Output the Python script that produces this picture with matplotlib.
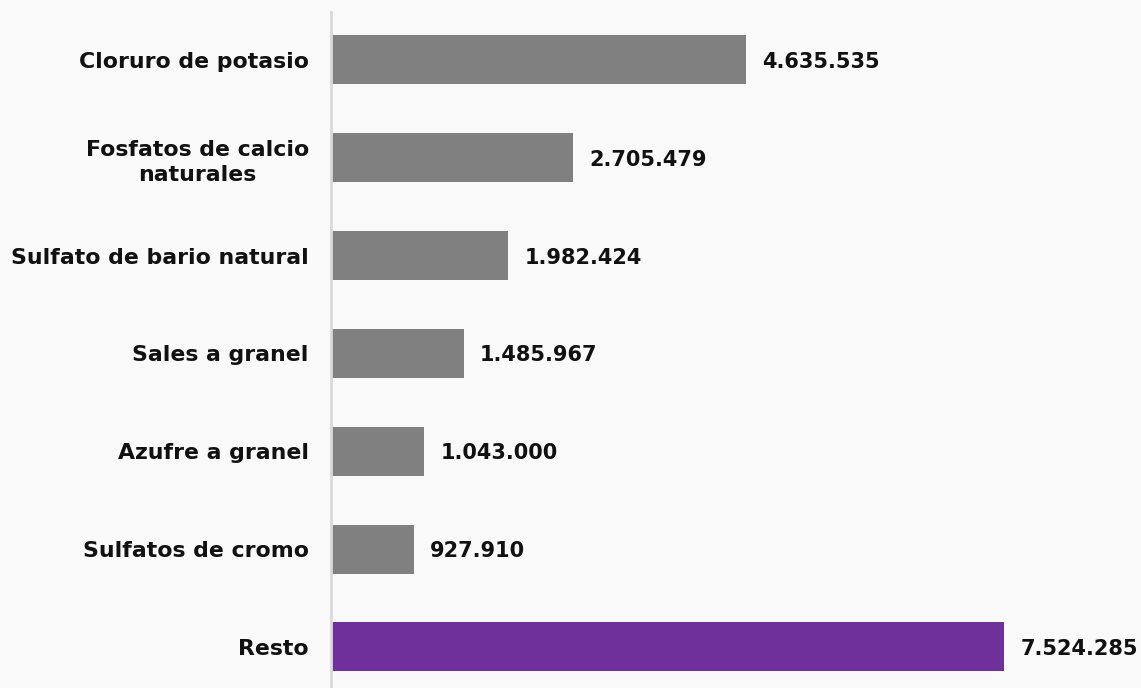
import matplotlib.pyplot as plt

categorias = ["Cloruro de potasio", "Fosfatos de calcio\nnaturales", "Sulfato de bario natural",
              "Sales a granel", "Azufre a granel", "Sulfatos de cromo", "Resto"]
valores = [4635535, 2705479, 1982424, 1485967, 1043000, 927910, 7524285]

GRIS = "#808080"
VIOLETA = "#70309C"
FONDO = "#f9f9f9"

plt.rcParams["font.family"] = ["DejaVu Sans"]

fig = plt.figure(figsize=(11.41, 6.88), dpi=100, facecolor=FONDO)
ax = fig.add_axes([331 / 1141, 0, 1 - 331 / 1141, (688 - 12) / 688])
ax.set_facecolor(FONDO)

colores = [VIOLETA if c == "Resto" else GRIS for c in categorias]
pos = list(range(len(categorias)))
ax.barh(pos, valores, height=0.5, color=colores)

for p, v in zip(pos, valores):
    txt = f"{v:,}".replace(",", ".")
    ax.text(v + 180000, p + 0.02, txt, va="center", ha="left",
            fontsize=15, fontweight="bold", color="#111111")

ax.set_yticks(pos)
ax.set_yticklabels(categorias, fontsize=15.8, fontweight="bold", color="#111111",
                   linespacing=1.35, multialignment="center")
ax.tick_params(axis="y", length=0, pad=16)
ax.set_xticks([])
ax.set_xlim(0, 9055000)
ax.set_ylim(6.42, -0.49)

for s in ["top", "right", "bottom"]:
    ax.spines[s].set_visible(False)
ax.spines["left"].set_color("#d9d9d9")
ax.spines["left"].set_linewidth(2)

fig.savefig("out.png", dpi=100, facecolor=FONDO)
